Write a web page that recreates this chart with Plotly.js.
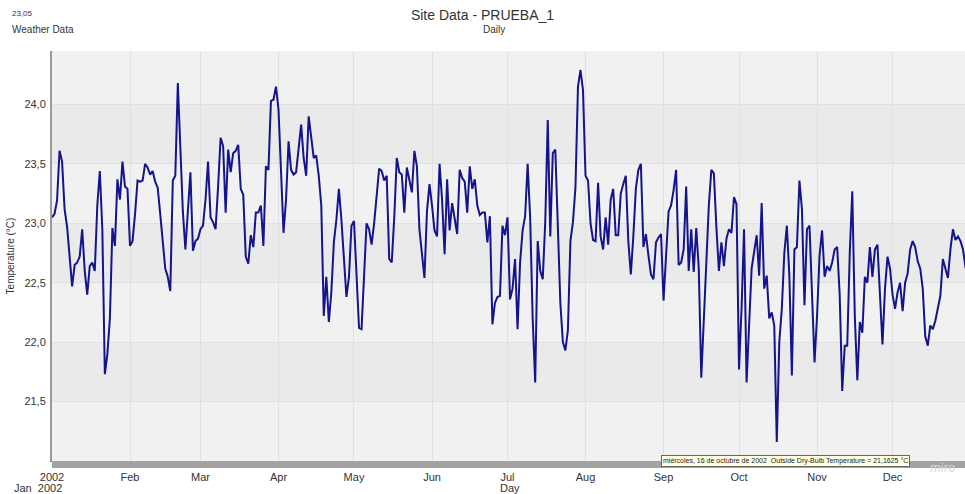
<!DOCTYPE html>
<html>
<head>
<meta charset="utf-8">
<script src="https://cdn.plot.ly/plotly-3.0.1.min.js"></script>
<style>
  html, body { margin: 0; padding: 0; background: #ffffff; }
  #chart { width: 965px; height: 494px; }
</style>
</head>
<body>
<div id="chart"></div>
<script>
// Daily outside dry-bulb temperature, 2002 (°C)
const startDate = '2002-01-01';
const temps = [
  23.05, 23.08, 23.19, 23.61, 23.52, 23.12, 22.97, 22.72, 22.47, 22.65,
  22.67, 22.72, 22.95, 22.60, 22.40, 22.64, 22.67, 22.60, 23.15, 23.44,
  22.95, 21.73, 21.90, 22.20, 22.96, 22.81, 23.37, 23.20, 23.52, 23.31,
  23.29, 22.81, 22.85, 23.08, 23.36, 23.35, 23.36, 23.50, 23.47, 23.41,
  23.44, 23.35, 23.30, 23.08, 22.85, 22.62, 22.55, 22.43, 23.36, 23.40,
  24.18, 23.60, 23.10, 22.78, 23.12, 23.43, 22.77, 22.85, 22.87, 22.95,
  22.98, 23.20, 23.52, 23.05, 23.01, 22.95, 23.31, 23.72, 23.65, 23.09,
  23.62, 23.43, 23.59, 23.61, 23.66, 23.29, 23.24, 22.72, 22.66, 22.90,
  22.80, 23.09, 23.09, 23.15, 22.81, 23.48, 23.45, 24.03, 24.04, 24.15,
  23.96, 23.45, 22.92, 23.20, 23.69, 23.45, 23.41, 23.43, 23.65, 23.83,
  23.55, 23.40, 23.90, 23.72, 23.55, 23.57, 23.40, 23.15, 22.22, 22.55,
  22.17, 22.42, 22.84, 23.03, 23.29, 23.03, 22.72, 22.38, 22.55, 22.98,
  23.02, 22.60, 22.12, 22.11, 22.50, 23.00, 22.95, 22.82, 23.00, 23.25,
  23.46, 23.44, 23.36, 23.40, 22.70, 22.67, 23.05, 23.55, 23.43, 23.41,
  23.09, 23.47, 23.36, 23.26, 23.61, 23.48, 22.95, 22.75, 22.54, 23.10,
  23.33, 23.15, 22.94, 22.89, 23.50, 23.20, 22.74, 23.37, 22.94, 23.17,
  23.03, 22.91, 23.45, 23.38, 23.35, 23.09, 23.48, 23.29, 23.37, 23.15,
  23.07, 23.09, 23.09, 22.84, 23.06, 22.15, 22.33, 22.38, 22.39, 22.98,
  22.90, 23.05, 22.36, 22.45, 22.70, 22.11, 22.67, 22.94, 23.06, 23.50,
  23.05, 22.20, 21.66, 22.85, 22.60, 22.53, 23.01, 23.87, 22.89, 23.59,
  23.62, 22.95, 22.33, 22.00, 21.93, 22.10, 22.85, 23.01, 23.30, 24.15,
  24.29, 24.12, 23.40, 23.36, 23.00, 22.86, 22.85, 23.34, 22.89, 22.78,
  23.05, 22.82, 23.20, 23.29, 22.90, 22.90, 23.25, 23.33, 23.40, 22.85,
  22.57, 22.89, 23.29, 23.45, 23.50, 22.80, 22.91, 22.73, 22.57, 22.53,
  22.84, 22.88, 22.91, 22.35, 22.70, 23.10, 23.15, 23.28, 23.45, 22.65,
  22.67, 22.78, 23.31, 22.60, 22.95, 22.59, 22.96, 22.62, 21.70, 22.15,
  22.60, 23.15, 23.45, 23.42, 22.97, 22.60, 22.84, 22.64, 22.87, 22.95,
  22.92, 23.22, 23.16, 21.77, 22.28, 22.95, 21.66, 22.17, 22.62, 22.76,
  22.90, 22.56, 23.17, 22.45, 22.56, 22.20, 22.25, 22.14, 21.16, 22.00,
  22.28, 22.75, 22.98, 22.56, 21.72, 22.78, 22.80, 23.36, 23.12, 22.31,
  22.95, 22.98, 22.45, 21.83, 22.22, 22.73, 22.94, 22.55, 22.64, 22.60,
  22.67, 22.78, 22.80, 22.40, 21.59, 21.97, 21.97, 22.75, 23.27, 22.22,
  21.68, 22.17, 22.08, 22.55, 22.50, 22.80, 22.55, 22.78, 22.82, 22.40,
  21.98, 22.45, 22.72, 22.62, 22.40, 22.28, 22.42, 22.50, 22.26, 22.50,
  22.58, 22.78, 22.85, 22.80, 22.68, 22.62, 22.45, 22.05, 21.97, 22.14,
  22.11, 22.18, 22.30, 22.39, 22.70, 22.61, 22.54, 22.78, 22.95, 22.86,
  22.89, 22.85, 22.78, 22.63, 22.55
];

const monthTicks = ['2002-01-01','2002-02-01','2002-03-01','2002-04-01','2002-05-01','2002-06-01',
                    '2002-07-01','2002-08-01','2002-09-01','2002-10-01','2002-11-01','2002-12-01'];
const monthLabels = ['2002','Feb','Mar','Apr','May','Jun','Jul','Aug','Sep','Oct','Nov','Dec'];
const yTicks = [21.5, 22.0, 22.5, 23.0, 23.5, 24.0];
const yLabels = ['21,5', '22,0', '22,5', '23,0', '23,5', '24,0'];
const xRange = ['2002-01-01', '2002-12-29 19:00'];
const yRange = [21.0, 24.45];

// alternating horizontal bands between gridlines
const bandEdges = [21.5, 22.0, 22.5, 23.0, 23.5, 24.0];
const shapes = [];
for (let i = 0; i < bandEdges.length - 1; i += 2) {
  shapes.push({
    type: 'rect', xref: 'paper', yref: 'y', x0: 0, x1: 1,
    y0: bandEdges[i], y1: bandEdges[i + 1],
    fillcolor: '#eaeaea', line: { width: 0 }, layer: 'below'
  });
}
// gray bar under the plot area
shapes.push({
  type: 'rect', xref: 'paper', yref: 'paper', x0: 0, x1: 1, y0: -0.017, y1: 0,
  fillcolor: '#a3a3a3', line: { width: 0 }
});

const PX_L = 52, PX_W = 913, PX_B = 461, PX_H = 410;
const px = v => (v - PX_L) / PX_W;
const py = v => (PX_B - v) / PX_H;
const font = 'Liberation Sans, Arial, sans-serif';

const trace = {
  type: 'scatter', mode: 'lines',
  x0: startDate, dx: 86400000,
  y: temps,
  line: { color: '#14148c', width: 2 },
  hoverinfo: 'skip'
};

const layout = {
  width: 965, height: 494,
  margin: { l: 52, r: 0, t: 51, b: 33 },
  paper_bgcolor: '#ffffff',
  plot_bgcolor: '#f1f1f1',
  showlegend: false,
  font: { family: font, size: 11, color: '#333333' },
  title: {
    text: 'Site Data - PRUEBA_1',
    font: { family: font, size: 14, color: '#333333' },
    x: 0.5, xref: 'container', xanchor: 'center',
    y: 1 - 15 / 494, yref: 'container', yanchor: 'middle'
  },
  xaxis: {
    type: 'date', range: xRange,
    tickvals: monthTicks, ticktext: monthLabels,
    ticks: 'outside', ticklen: 6, tickcolor: 'rgba(0,0,0,0)',
    showgrid: true, gridcolor: '#e0e0e0', gridwidth: 1,
    zeroline: false,
    showline: true, linecolor: '#8c8c8c', linewidth: 1, mirror: false,
    tickfont: { family: font, size: 11, color: '#333333' },
    fixedrange: true
  },
  yaxis: {
    range: yRange,
    tickvals: yTicks, ticktext: yLabels,
    ticks: 'outside', ticklen: 2, tickcolor: 'rgba(0,0,0,0)',
    showgrid: true, gridcolor: '#e0e0e0', gridwidth: 1,
    zeroline: false,
    showline: true, linecolor: '#9a9a9a', linewidth: 2,
    tickfont: { family: font, size: 11, color: '#333333' },
    title: { text: 'Temperature (°C)', font: { family: font, size: 10, color: '#333333' }, standoff: 8 },
    fixedrange: true
  },
  shapes: shapes,
  annotations: [
    { text: '23,05', xref: 'paper', yref: 'paper', x: px(10), y: py(14), xanchor: 'left', yanchor: 'middle',
      showarrow: false, font: { family: font, size: 8, color: '#333333' } },
    { text: 'Weather Data', xref: 'paper', yref: 'paper', x: px(10), y: py(30), xanchor: 'left', yanchor: 'middle',
      showarrow: false, font: { family: font, size: 10, color: '#333333' } },
    { text: 'Daily', xref: 'paper', yref: 'paper', x: px(494), y: py(30), xanchor: 'center', yanchor: 'middle',
      showarrow: false, font: { family: font, size: 10, color: '#333333' } },
    { text: 'Jan  2002', xref: 'paper', yref: 'paper', x: px(12), y: py(488), xanchor: 'left', yanchor: 'middle',
      showarrow: false, font: { family: font, size: 11, color: '#333333' } },
    { text: 'Day', xref: 'paper', yref: 'paper', x: px(510), y: py(488), xanchor: 'center', yanchor: 'middle',
      showarrow: false, font: { family: font, size: 11, color: '#333333' } },
    { text: 'miércoles, 16 de octubre de 2002  Outside Dry-Bulb Temperature = 21,1625 °C',
      xref: 'paper', yref: 'paper', x: px(785.5), y: py(461), xanchor: 'center', yanchor: 'middle',
      showarrow: false, bgcolor: '#ffffe1', bordercolor: '#666666', borderwidth: 1, borderpad: 1,
      font: { family: font, size: 7, color: '#222222' } },
    { text: 'miro', xref: 'paper', yref: 'paper', x: px(942), y: py(467), xanchor: 'center', yanchor: 'middle',
      showarrow: false, font: { family: font, size: 13, color: '#d9d9d9' } }
  ],
  hovermode: false
};

Plotly.newPlot('chart', [trace], layout, { staticPlot: true, displayModeBar: false });
</script>
</body>
</html>
